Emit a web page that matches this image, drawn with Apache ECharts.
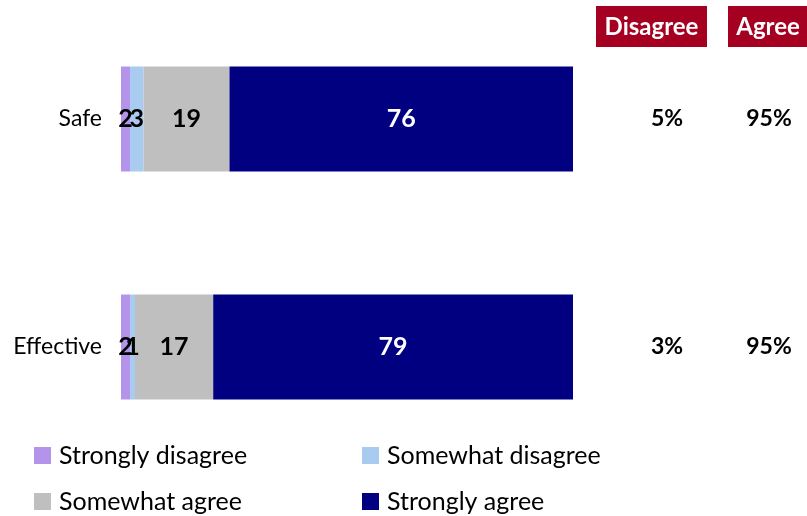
<!DOCTYPE html>
<html>
<head>
<meta charset="utf-8">
<script src="https://cdn.jsdelivr.net/npm/echarts@6/dist/echarts.min.js"></script>
<style>html,body{margin:0;padding:0;background:#fff;}#c{width:807px;height:516px;}</style>
</head>
<body>
<div id="c"></div>
<script>
var categories = ['Safe', 'Effective'];
var seriesNames = ['Strongly disagree', 'Somewhat disagree', 'Somewhat agree', 'Strongly agree'];
var stronglyDisagree = [2.0, 2.0];
var somewhatDisagree = [3.0, 1.1];
var somewhatAgree = [19.0, 17.3];
var stronglyAgree = [76.0, 79.6];
var stronglyDisagreeLabels = ['2', '2'];
var somewhatDisagreeLabels = ['3', '1'];
var somewhatAgreeLabels = ['19', '17'];
var stronglyAgreeLabels = ['76', '79'];
var disagreeNet = ['5%', '3%'];
var agreeNet = ['95%', '95%'];

var colors = ['#b493ea', '#a9cbef', '#bfbfbf', '#000080'];
var FONT = 'Lato';

var chart = echarts.init(document.getElementById('c'), null, {renderer: 'canvas'});

function mk(i, data, labels, labelColor) {
  return {
    name: seriesNames[i], type: 'bar', stack: 's', data: data, barWidth: 105,
    itemStyle: {color: colors[i]},
    label: {show: true, position: 'inside', color: labelColor, fontFamily: FONT, fontWeight: 'bold', fontSize: 25,
      formatter: function (p) { return labels[p.dataIndex]; }},
    emphasis: {disabled: true}
  };
}

function lg(i, left, top) {
  return {data: [seriesNames[i]], left: left, top: top, itemWidth: 17, itemHeight: 17, itemGap: 0,
    icon: 'rect', textStyle: {fontFamily: FONT, fontSize: 25, color: '#000', padding: [0, 0, 0, 3]}, selectedMode: false};
}

var option = {
  animation: false,
  grid: {left: 121, right: 234, top: 5, height: 456, containLabel: false},
  xAxis: {type: 'value', min: 0, max: 100, show: false},
  yAxis: [
    {type: 'category', data: categories, inverse: true,
      axisLine: {show: false}, axisTick: {show: false}, splitLine: {show: false},
      axisLabel: {margin: 19, color: '#000', fontFamily: FONT, fontSize: 23}},
    {type: 'category', data: disagreeNet, inverse: true, position: 'right',
      axisLine: {show: false}, axisTick: {show: false}, splitLine: {show: false},
      axisLabel: {margin: 94, align: 'center', color: '#000', fontFamily: FONT, fontWeight: 'bold', fontSize: 23}},
    {type: 'category', data: agreeNet, inverse: true, position: 'right',
      axisLine: {show: false}, axisTick: {show: false}, splitLine: {show: false},
      axisLabel: {margin: 196, align: 'center', color: '#000', fontFamily: FONT, fontWeight: 'bold', fontSize: 23}}
  ],
  legend: [lg(0, 29, 438), lg(1, 357, 438), lg(2, 29, 484), lg(3, 357, 484)],
  graphic: [
    {type: 'rect', shape: {x: 596, y: 6, width: 111, height: 41}, style: {fill: '#a50021'}},
    {type: 'text', x: 651.5, y: 27, style: {text: 'Disagree', fill: '#fff', font: 'bold 24px Lato', align: 'center', verticalAlign: 'middle'}},
    {type: 'rect', shape: {x: 728, y: 6, width: 79, height: 41}, style: {fill: '#a50021'}},
    {type: 'text', x: 768, y: 27, style: {text: 'Agree', fill: '#fff', font: 'bold 24px Lato', align: 'center', verticalAlign: 'middle'}}
  ],
  series: [
    mk(0, stronglyDisagree, stronglyDisagreeLabels, '#000'),
    mk(1, somewhatDisagree, somewhatDisagreeLabels, '#000'),
    mk(2, somewhatAgree, somewhatAgreeLabels, '#000'),
    mk(3, stronglyAgree, stronglyAgreeLabels, '#fff')
  ]
};
chart.setOption(option);
</script>
</body>
</html>
